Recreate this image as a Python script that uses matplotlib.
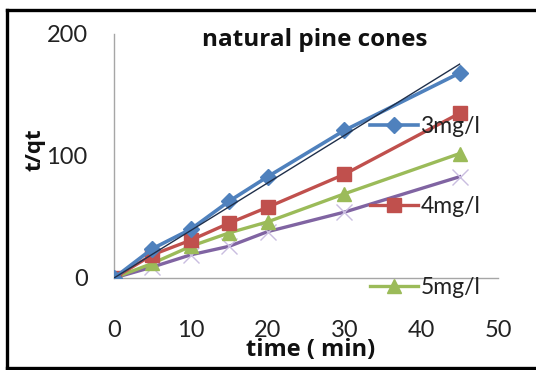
import numpy as np
import matplotlib
matplotlib.use("Agg")
import matplotlib.pyplot as plt
from matplotlib.lines import Line2D

plt.rcParams['font.family'] = ['Lato', 'DejaVu Sans']

time_min = [0, 5, 10, 15, 20, 30, 45]
s3 = [0, 24, 40, 63, 83, 121, 168]
s4 = [0, 19, 31, 45, 58, 85, 135]
s5 = [0, 12, 26, 37, 46, 69, 102]
s6 = [0, 9, 19, 26, 38, 54, 83]
labels = ["3mg/l", "4mg/l", "5mg/l"]
xticks = [0, 10, 20, 30, 40, 50]
yticks = [0, 100, 200]

fig = plt.figure(figsize=(5.36, 3.70), dpi=100)
ax = fig.add_axes([114/536, 1-278/370, (498-114)/536, (278-34)/370])

ax.plot(time_min, s6, color='#8064A2', lw=2.4, marker='x', ms=12, mew=1.0,
        mec='#c9bde0', zorder=2)
l5, = ax.plot(time_min, s5, color='#9BBB59', lw=2.4, marker='^', ms=10, zorder=3)
l4, = ax.plot(time_min, s4, color='#C0504D', lw=2.4, marker='s', ms=10, zorder=4)
l3, = ax.plot(time_min, s3, color='#4F81BD', lw=2.6, marker='D', ms=8, zorder=5)

x = np.array(time_min, float)
y = np.array(s3, float)
slope = (x * y).sum() / (x * x).sum()
ax.plot([0, 45], [0, slope * 45], color='#1f2f4a', lw=1.0, zorder=6)

ax.set_xlim(0, 50)
ax.set_ylim(0, 200)
ax.set_xticks(xticks)
ax.set_yticks(yticks)
ax.tick_params(length=0, labelsize=17, colors='#222222')
ax.tick_params(axis='x', pad=30)
ax.tick_params(axis='y', pad=19)
for s in ['top', 'right']:
    ax.spines[s].set_visible(False)
for s in ['left', 'bottom']:
    ax.spines[s].set_color('#a6a6a6')
    ax.spines[s].set_linewidth(1.0)

leg = ax.legend([l3, l4, l5], labels, loc='center left',
                bbox_to_anchor=(370/536, 1-207/370), bbox_transform=fig.transFigure,
                frameon=False, fontsize=16.5, labelspacing=2.6, handlelength=2.1,
                handletextpad=0.1, borderpad=0, borderaxespad=0)
for t in leg.get_texts():
    t.set_color('#222222')

fig.text(315/536, 1-40/370, "natural pine cones", ha='center', va='center',
         fontsize=17.5, fontweight='bold', color='#111111', family=['Open Sans', 'DejaVu Sans'])
fig.text(311/536, 1-350/370, "time ( min)", ha='center', va='center',
         fontsize=17, fontweight='bold', color='#111111', family=['Open Sans', 'DejaVu Sans'])
fig.text(35/536, 1-150/370, "t/qt", ha='center', va='center', rotation=90,
         fontsize=16, fontweight='bold', color='#111111', family=['Open Sans', 'DejaVu Sans'])

lw = 2.4
fig.add_artist(Line2D([6.5/536, 1.0], [1-10/370, 1-10/370], color='black', lw=lw,
                      transform=fig.transFigure))
fig.add_artist(Line2D([6.5/536, 6.5/536], [1-10/370, 1-368/370], color='black', lw=lw,
                      transform=fig.transFigure))
fig.add_artist(Line2D([6.5/536, 1.0], [1-368/370, 1-368/370], color='black', lw=lw,
                      transform=fig.transFigure))

fig.savefig("out.png", dpi=100)
